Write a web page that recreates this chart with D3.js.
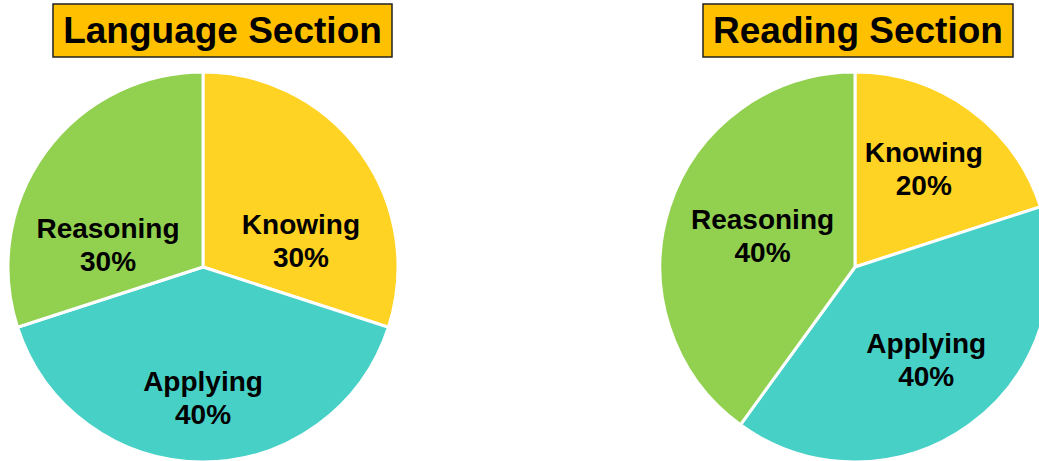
<!DOCTYPE html>
<html>
<head>
<meta charset="utf-8">
<script src="https://cdn.jsdelivr.net/npm/d3@7"></script>
<style>
  body { margin: 0; background: #fff; }
  svg { display: block; }
  text { font-family: "Liberation Sans", Arial, sans-serif; font-weight: bold; fill: #000; }
</style>
</head>
<body>
<script>
// data
var categories = ['Knowing', 'Applying', 'Reasoning'];
var languageValues = [30, 40, 30];
var readingValues = [20, 40, 40];
var titles = ['Language Section', 'Reading Section'];

var colors = ['#FFD324', '#47D0C6', '#92D050'];

// label placement: shift from centroid angle (deg) and distance as fraction of radius
var languageLabelPos = [{da: 21, rf: 0.52}, {da: 0, rf: 0.67}, {da: -23, rf: 0.50}];
var readingLabelPos = [{da: -1, rf: 0.615}, {da: -1.5, rf: 0.60}, {da: 0.5, rf: 0.50}];

var width = 1039;
var height = 461;
var radius = 195;

var svg = d3.select('body').append('svg')
  .attr('width', width)
  .attr('height', height);

var charts = [
  {title: titles[0], values: languageValues, labels: languageLabelPos, cx: 203, cy: 267,
    box: {x: 53, y: 4, w: 339, h: 53}},
  {title: titles[1], values: readingValues, labels: readingLabelPos, cx: 855, cy: 267,
    box: {x: 703, y: 4, w: 310, h: 53}}
];

var pie = d3.pie().sort(null).value(function(d) { return d.value; });
var arc = d3.arc().innerRadius(0).outerRadius(radius);

charts.forEach(function(c) {
  var rows = categories.map(function(name, i) {
    return {name: name, value: c.values[i], color: colors[i], pos: c.labels[i]};
  });

  var g = svg.append('g').attr('transform', 'translate(' + c.cx + ',' + c.cy + ')');

  g.selectAll('path')
    .data(pie(rows))
    .enter().append('path')
    .attr('d', arc)
    .attr('fill', function(d) { return d.data.color; })
    .attr('stroke', '#fff')
    .attr('stroke-width', 3)
    .attr('stroke-linejoin', 'round');

  var labels = g.selectAll('text.lbl')
    .data(pie(rows))
    .enter().append('text')
    .attr('class', 'lbl')
    .attr('text-anchor', 'middle')
    .style('font-size', '28px')
    .attr('transform', function(d) {
      var a = (d.startAngle + d.endAngle) / 2 + d.data.pos.da * Math.PI / 180;
      var r = d.data.pos.rf * radius;
      return 'translate(' + (Math.sin(a) * r) + ',' + (-Math.cos(a) * r) + ')';
    });
  labels.append('tspan').attr('x', 0).attr('y', -7).text(function(d) { return d.data.name; });
  labels.append('tspan').attr('x', 0).attr('y', 26).text(function(d) { return d.data.value + '%'; });

  // title box
  svg.append('rect')
    .attr('x', c.box.x).attr('y', c.box.y)
    .attr('width', c.box.w).attr('height', c.box.h)
    .attr('fill', '#FFC000')
    .attr('stroke', '#222')
    .attr('stroke-width', 1.5);
  svg.append('text')
    .attr('x', c.box.x + c.box.w / 2)
    .attr('y', 43)
    .attr('text-anchor', 'middle')
    .style('font-size', '37px')
    .text(c.title);
});
</script>
</body>
</html>
